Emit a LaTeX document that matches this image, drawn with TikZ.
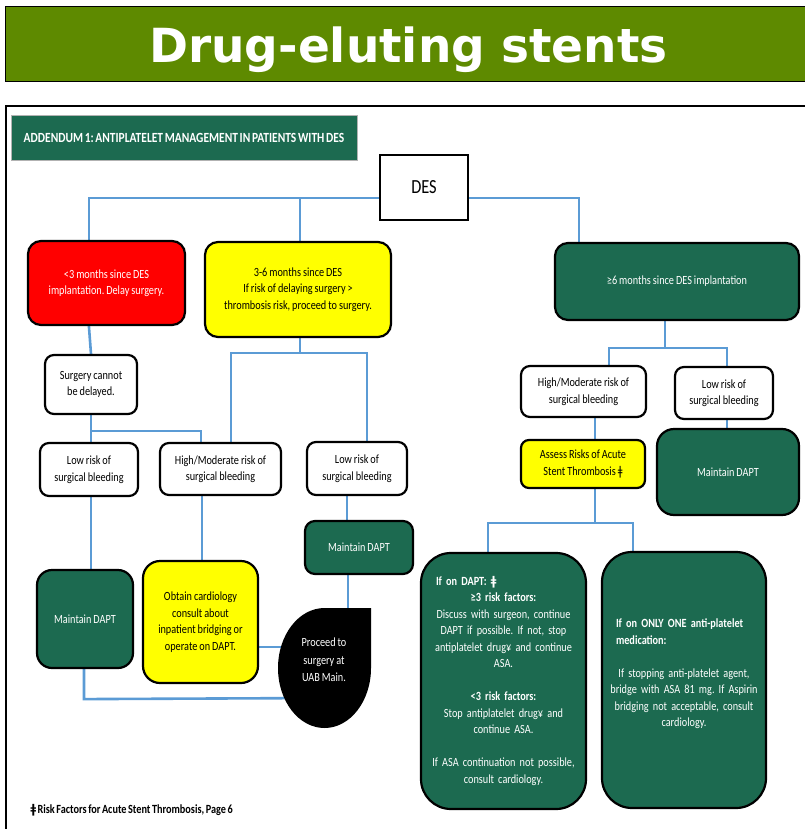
\documentclass[tikz,border=0pt]{standalone}
\usepackage{fontspec}
\setmainfont{Carlito}[FakeStretch=0.82, WordSpace=0.85, BoldFeatures={WordSpace=0.65}]
\newfontfamily\titlefont{DejaVu Sans}
\newfontfamily\glyphfont{DejaVu Sans}[FakeStretch=0.82]
\usetikzlibrary{calc,backgrounds}
\frenchspacing

\definecolor{deepgreen}{RGB}{28,106,80}
\definecolor{bannergreen}{RGB}{94,138,0}
\definecolor{linkblue}{RGB}{91,155,213}
\definecolor{alertred}{RGB}{255,0,0}
\definecolor{warnyellow}{RGB}{255,255,0}
\newcommand{\dbar}{{\glyphfont ǂ}}

\tikzset{
  box/.style={draw=black, line width=2.2pt, rounded corners=9pt, align=center,
    inner sep=2pt, font=\fontsize{12.5}{16.5}\selectfont},
  plainbox/.style={box, fill=white},
  greenbox/.style={box, fill=deepgreen, text=white},
  redbox/.style={box, fill=alertred, text=white, rounded corners=13pt},
  yellowbox/.style={box, fill=warnyellow, text=black, rounded corners=13pt},
  conn/.style={draw=linkblue, line width=2.6pt},
}

\begin{document}
\begin{tikzpicture}[x=1pt,y=-1pt]
\useasboundingbox (0,0) rectangle (804,829);

% title banner
\fill[bannergreen, draw=black, line width=1pt] (5,7) rectangle (815,82);
\node[anchor=base, text=white, font=\titlefont\bfseries\fontsize{47}{50}\selectfont]
  (title) at (408.5,63) {Drug-eluting stents};

% page frame
\draw[black, line width=1.6pt] (6,106) rectangle (830,845);

% header strip
\node[fill=deepgreen, draw=gray!60, line width=0.6pt, minimum width=346pt, minimum height=45pt,
  text=white, font=\bfseries\fontsize{14}{16}\selectfont] (hdr) at (184,137.5)
  {ADDENDUM 1: ANTIPLATELET MANAGEMENT IN PATIENTS WITH DES};

% root
\node[plainbox, sharp corners, minimum width=88pt, minimum height=65pt,
  font=\fontsize{20}{24}\selectfont] (des) at (424,187.5) {DES};

% time since implantation
\node[redbox, minimum width=157pt, minimum height=84pt] (early) at (106.5,283)
  {<3 months since DES\\implantation. Delay surgery.};
\node[yellowbox, minimum width=186pt, minimum height=95pt] (mid) at (298,289.5)
  {3-6 months since DES\\If risk of delaying surgery >\\thrombosis risk, proceed to surgery.};
\node[greenbox, rounded corners=13pt, minimum width=244pt, minimum height=77pt] (late) at (677,281.5)
  {≥6 months since DES implantation};

% left branch
\node[plainbox, minimum width=92pt, minimum height=59pt] (surg) at (91,384.5)
  {Surgery cannot\\be delayed.};
\node[plainbox, minimum width=98pt, minimum height=53pt] (low1) at (89,469.5)
  {Low risk of\\surgical bleeding};
\node[plainbox, minimum width=121pt, minimum height=52pt] (hm1) at (220.5,469)
  {High/Moderate risk of\\surgical bleeding};
\node[plainbox, minimum width=100pt, minimum height=53pt] (low2) at (357,468.5)
  {Low risk of\\surgical bleeding};
\node[greenbox, rounded corners=10pt, minimum width=108pt, minimum height=53pt] (dapt2) at (359,547.5)
  {Maintain DAPT};
\node[greenbox, rounded corners=15pt, minimum width=96pt, minimum height=98pt] (dapt1) at (85,619)
  {Maintain DAPT};
\node[yellowbox, rounded corners=17pt, minimum width=115pt, minimum height=122pt] (card) at (200.5,622)
  {Obtain cardiology\\consult about\\inpatient bridging or\\operate on DAPT.};

% terminal teardrop
\fill[black] (324.5,668) ++(0,-60) -- ++(46.5,0) -- ++(0,60)
  arc[start angle=0, end angle=270, x radius=46.5, y radius=60] -- cycle;
\node[text=white, align=center, font=\fontsize{12.5}{17.5}\selectfont] (proceed) at (324,660)
  {Proceed to\\surgery at\\UAB Main.};

% right branch
\node[plainbox, minimum width=125pt, minimum height=51pt] (hm3) at (583.5,391.5)
  {High/Moderate risk of\\surgical bleeding};
\node[plainbox, minimum width=98pt, minimum height=52pt] (low3) at (724,393)
  {Low risk of\\surgical bleeding};
\node[yellowbox, rounded corners=8pt, minimum width=124pt, minimum height=48pt] (assess) at (583,464)
  {Assess Risks of Acute\\Stent Thrombosis \dbar};
\node[greenbox, rounded corners=17pt, minimum width=142pt, minimum height=86pt] (dapt3) at (728,472)
  {Maintain DAPT};
\node[greenbox, rounded corners=30pt, minimum width=165pt, minimum height=256pt, text width=152pt]
  (boxA) at (503.5,681)
  {\makebox[\linewidth][l]{\hspace{8.5pt}\bfseries If on DAPT: \dbar}\\
   \textbf{≥3 risk factors:}\\
   Discuss with surgeon, continue\\
   DAPT if possible. If not, stop\\
   antiplatelet drug¥ and continue\\
   ASA.\\[16.5pt]
   \textbf{<3 risk factors:}\\
   Stop antiplatelet drug¥ and\\
   continue ASA.\\[16.5pt]
   If ASA continuation not possible,\\
   consult cardiology.};
\node[greenbox, rounded corners=30pt, minimum width=164pt, minimum height=256pt, text width=152pt]
  (boxB) at (684,680)
  {\makebox[\linewidth][l]{\hspace{8pt}\bfseries If on ONLY ONE anti-platelet}\\
   \makebox[\linewidth][l]{\hspace{8pt}\bfseries medication:}\\[16.5pt]
   If stopping anti-platelet agent,\\
   bridge with ASA 81 mg. If Aspirin\\
   bridging not acceptable, consult\\
   cardiology.\\[-2pt]\mbox{}};

% footnote
\node[anchor=base west, font=\bfseries\fontsize{12.5}{14}\selectfont] (note) at (27,813)
  {\dbar\ Risk Factors for Acute Stent Thrombosis, Page 6};

% connectors
\begin{pgfonlayer}{background}
\draw[conn] ($(des.west)+(0,10.5)$) -| ($(early.north west)+(62,0)$);
\draw[conn] ($(des.west)+(0,10.5)$) -| ($(mid.north)+(2,0)$);
\draw[conn] ($(des.east)+(0,10.5)$) -| ($(late.north west)+(25,0)$);
\draw[conn] ($(early.south west)+(62,0)$) -- (surg.north);
\draw[conn] (surg.south) -- (surg.south |- low1.north);
\draw[conn] ($(surg.south)+(0,16)$) -| ($(hm1.north west)+(42,0)$);
\draw[conn] ($(mid.south)+(2,0)$) -- ++(0,15) coordinate (midsplit);
\draw[conn] ($(hm1.north west)+(72,0)$) |- (midsplit) -| ($(low2.north west)+(61,0)$);
\draw[conn] (surg.south |- low1.south) -- (surg.south |- dapt1.north);
\draw[conn] ($(hm1.south west)+(43,0)$) -- ($(card.north west)+(60,0)$);
\draw[conn] ($(low2.south west)+(41,0)$) -- ($(dapt2.north west)+(43,0)$);
\draw[conn] ($(dapt2.south)+(-11,0)$) -- ($(proceed.center)+(24,-40)$);
\draw[conn] ($(card.east)+(0,25)$) coordinate (cardout) -- (cardout -| proceed.center);
\draw[conn] ($(dapt1.south)+(-1,0)$) -- ++(0,30) -- ($(proceed.center)+(0,38)$);
\draw[conn] ($(late.south)+(-12,0)$) -- ++(0,27) coordinate (latesplit);
\draw[conn] ($(hm3.north west)+(89,0)$) |- (latesplit) -| ($(low3.north west)+(53,0)$);
\draw[conn] ($(hm3.south west)+(75,0)$) -- ($(assess.north west)+(75,0)$);
\draw[conn] ($(low3.south west)+(53,0)$) -- ($(dapt3.north west)+(71,0)$);
\draw[conn] ($(assess.south west)+(75,0)$) -- ++(0,34) coordinate (asplit);
\draw[conn] ($(boxA.north west)+(68,0)$) |- (asplit) -| ($(boxB.north west)+(32,0)$);
\end{pgfonlayer}
\end{tikzpicture}
\end{document}
